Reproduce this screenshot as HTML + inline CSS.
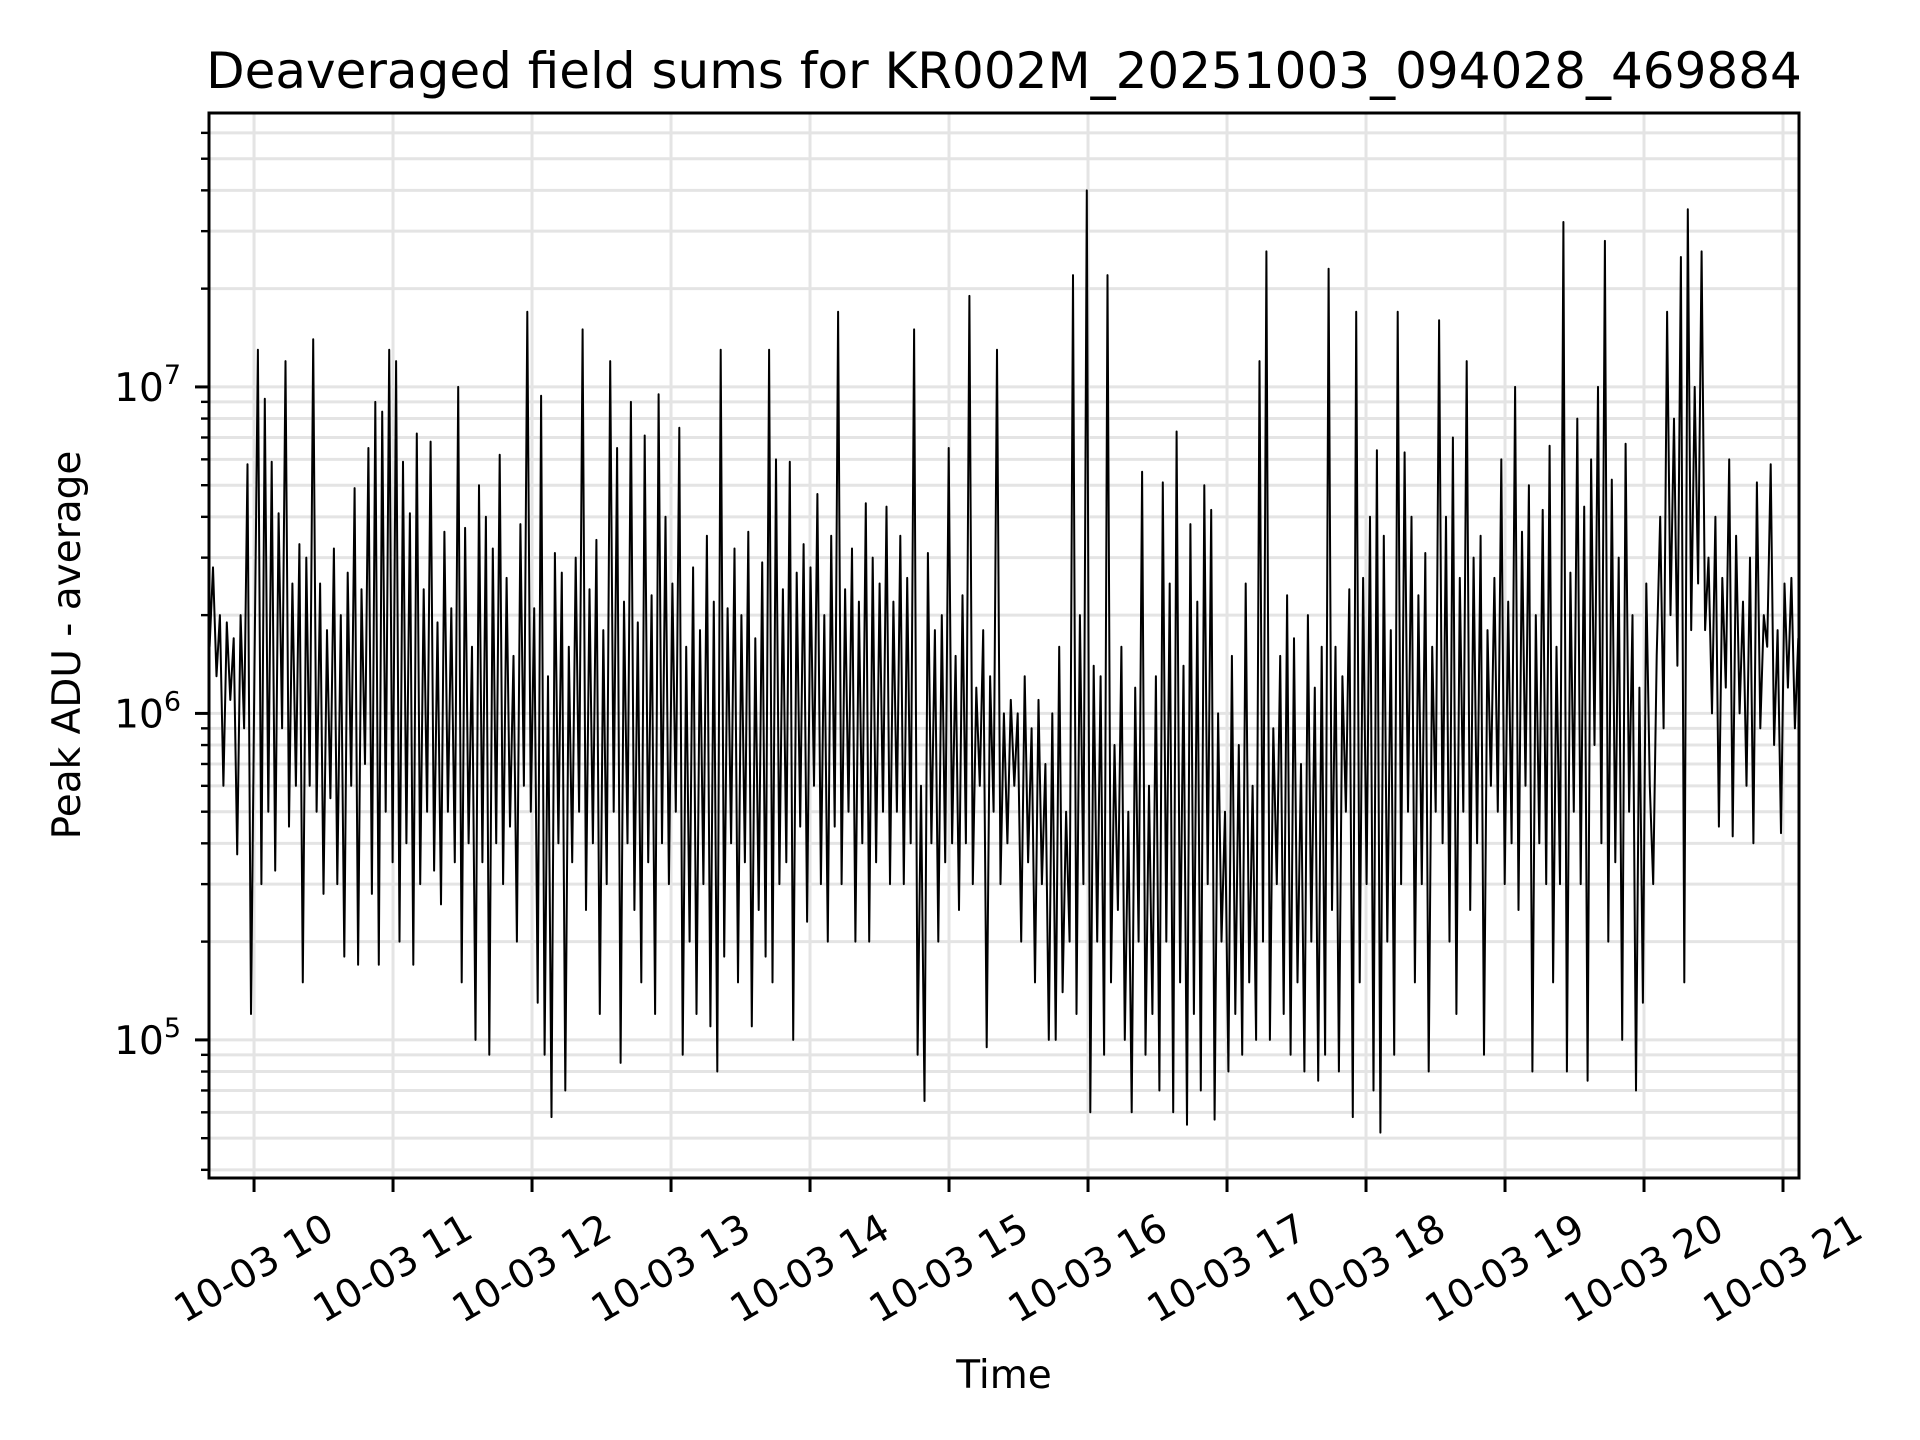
<!DOCTYPE html>
<html><head><meta charset="utf-8"><style>
html,body{margin:0;padding:0;background:#fff;}
svg{display:block;font-family:"DejaVu Sans","Liberation Sans",sans-serif;}
</style></head><body>
<svg id="chart" width="1920" height="1440" viewBox="0 0 1920 1440" xmlns="http://www.w3.org/2000/svg">
<rect x="0" y="0" width="1920" height="1440" fill="#fff"/>
<g id="grid"></g>
<g id="series"></g>
<rect x="209" y="113" width="1590" height="1065" fill="none" stroke="#000" stroke-width="3"/>
<g id="axes"></g>
<text x="1004" y="88" font-size="50" text-anchor="middle">Deaveraged field sums for KR002M_20251003_094028_469884</text>
<text x="1004" y="1388" font-size="39" text-anchor="middle">Time</text>
<text transform="translate(80,645) rotate(-90)" font-size="39" text-anchor="middle">Peak ADU - average</text>
</svg>
<script>
const xTickHours = [10,11,12,13,14,15,16,17,18,19,20,21];
const xTickLabels = ["10-03 10","10-03 11","10-03 12","10-03 13","10-03 14","10-03 15","10-03 16","10-03 17","10-03 18","10-03 19","10-03 20","10-03 21"];
const yDecades = [5,6,7];
const startHour = 9.68;
const endHour = 21.11;
// values in millions of ADU
const seriesValues = [
1.6,2.8,1.3,2.0,0.6,1.9,1.1,1.7,0.37,2.0,0.9,5.8,0.12,
1.4,13,0.3,9.2,0.5,5.9,0.33,4.1,0.9,12,0.45,2.5,0.6,3.3,0.15,3.0,0.6,14,0.5,2.5,
0.28,1.8,0.55,3.2,0.3,2.0,0.18,2.7,0.6,4.9,0.17,2.4,0.7,6.5,0.28,9.0,0.17,8.4,0.5,13,
0.35,12,0.2,5.9,0.4,4.1,0.17,7.2,0.3,2.4,0.5,6.8,0.33,1.9,0.26,3.6,0.5,2.1,0.35,10,
0.15,3.7,0.4,1.6,0.1,5.0,0.35,4.0,0.09,3.2,0.4,6.2,0.3,2.6,0.45,1.5,0.2,3.8,0.6,17,
0.5,2.1,0.13,9.4,0.09,1.3,0.058,3.1,0.4,2.7,0.07,1.6,0.35,3.0,0.5,15,0.25,2.4,0.4,3.4,
0.12,1.8,0.3,12,0.5,6.5,0.085,2.2,0.4,9.0,0.25,1.9,0.15,7.1,0.35,2.3,0.12,9.5,0.4,4.0,
0.3,2.5,0.5,7.5,0.09,1.6,0.2,2.8,0.12,1.8,0.3,3.5,0.11,2.2,0.08,13,0.18,2.1,0.4,3.2,
0.15,2.0,0.35,3.6,0.11,1.7,0.25,2.9,0.18,13,0.15,6.0,0.3,2.4,0.35,5.9,0.1,2.7,0.45,3.3,
0.23,2.8,0.6,4.7,0.3,2.0,0.2,3.5,0.45,17,0.3,2.4,0.5,3.2,0.2,2.2,0.4,4.4,0.2,3.0,
0.35,2.5,0.5,4.3,0.3,2.2,0.5,3.5,0.3,2.6,0.4,15,0.09,0.6,0.065,3.1,0.4,1.8,0.2,2.0,
0.35,6.5,0.4,1.5,0.25,2.3,0.4,19,0.3,1.2,0.6,1.8,0.095,1.3,0.5,13,0.3,1.0,0.4,1.1,
0.6,1.0,0.2,1.3,0.35,0.9,0.15,1.1,0.3,0.7,0.1,1.0,0.1,1.6,0.14,0.5,0.2,22,0.12,2.0,
0.3,40,0.06,1.4,0.2,1.3,0.09,22,0.15,0.8,0.25,1.6,0.1,0.5,0.06,1.2,0.2,5.5,0.09,0.6,
0.12,1.3,0.07,5.1,0.2,2.5,0.06,7.3,0.15,1.4,0.055,3.8,0.12,2.2,0.07,5.0,0.3,4.2,0.057,1.0,
0.2,0.5,0.08,1.5,0.12,0.8,0.09,2.5,0.15,0.6,0.1,12,0.2,26,0.1,0.9,0.3,1.5,0.12,2.3,
0.09,1.7,0.15,0.7,0.08,2.0,0.2,1.2,0.075,1.6,0.09,23,0.25,1.6,0.08,1.3,0.5,2.4,0.058,17,
0.15,2.6,0.3,4.0,0.07,6.4,0.052,3.5,0.2,1.8,0.09,17,0.3,6.3,0.5,4.0,0.15,2.3,0.3,3.1,
0.08,1.6,0.5,16,0.4,4.0,0.2,7.0,0.12,2.6,0.5,12,0.25,3.0,0.4,3.5,0.09,1.8,0.6,2.6,
0.5,6.0,0.3,2.2,0.4,10,0.25,3.6,0.6,5.0,0.08,2.0,0.4,4.2,0.3,6.6,0.15,1.6,0.3,32,
0.08,2.7,0.5,8.0,0.3,4.3,0.075,6.0,0.8,10,0.4,28,0.2,5.2,0.35,3.0,0.1,6.7,0.5,2.0,
0.07,1.2,0.13,2.5,0.6,0.3,1.5,4.0,0.9,17,2.0,8.0,1.4,25,0.15,35,1.8,10,2.5,26,
1.8,3.0,1.0,4.0,0.45,2.6,1.2,6.0,0.42,3.5,1.0,2.2,0.6,3.0,0.4,5.1,0.9,2.0,1.6,5.8,0.8,1.8,0.43,2.5,1.2,2.6,0.9,1.7
];

const NS = "http://www.w3.org/2000/svg";
const L = 209, R = 1799, T = 113, B = 1178;
const xMin = 9.676, xMax = 21.115;
const yMinLog = 4.577, yMaxLog = 7.839;
function xScale(h){ return L + (h - xMin) / (xMax - xMin) * (R - L); }
function yScale(v){ return B - (Math.log10(v) - yMinLog) / (yMaxLog - yMinLog) * (B - T); }
function mk(tag, attrs, parent){
  const e = document.createElementNS(NS, tag);
  for (const k in attrs) e.setAttribute(k, attrs[k]);
  parent.appendChild(e);
  return e;
}
const grid = document.getElementById('grid');
const axes = document.getElementById('axes');
const series = document.getElementById('series');

for (let d = 4; d <= 7; d++) {
  for (let m = 1; m <= 9; m++) {
    const v = m * Math.pow(10, d);
    const lg = Math.log10(v);
    if (lg < yMinLog || lg > yMaxLog) continue;
    const y = yScale(v);
    const gl = mk('line', {x1:L, x2:R, y1:y, y2:y, stroke:'#e4e4e4', 'stroke-width':3}, grid);
    
    
    const tk = mk('line', {x1:L, x2:L - (m === 1 ? 14 : 8), y1:y, y2:y, stroke:'#000', 'stroke-width': m === 1 ? 3 : 2.4}, axes);
    
    
  }
}
yDecades.forEach(function(d){
  const y = yScale(Math.pow(10, d));
  const t = mk('text', {x:181, y:y + 14, 'font-size':39, 'text-anchor':'end'}, axes);
  
  
  const base = mk('tspan', {}, t); base.textContent = '10';
  const sup = mk('tspan', {dy:-17, 'font-size':27}, t); sup.textContent = String(d);
});

xTickHours.forEach(function(h, i){
  const x = xScale(h);
  const gl = mk('line', {x1:x, x2:x, y1:T, y2:B, stroke:'#e4e4e4', 'stroke-width':3}, grid);
  
  
  const tk = mk('line', {x1:x, x2:x, y1:B, y2:B + 14, stroke:'#000', 'stroke-width':3}, axes);
  
  
  const t = mk('text', {x:0, y:0, 'font-size':39, 'text-anchor':'middle', 'dominant-baseline':'central',
    transform:'translate(' + x + ',1269) rotate(-30)'}, axes);
  
  
  t.textContent = xTickLabels[i];
});

const n = seriesValues.length;
let pts = [];
for (let i = 0; i < n; i++) {
  const h = startHour + i * (endHour - startHour) / (n - 1);
  pts.push(xScale(h).toFixed(1) + ',' + yScale(seriesValues[i] * 1e6).toFixed(1));
}
const line = mk('polyline', {points:pts.join(' '), fill:'none', stroke:'#000', 'stroke-width':2, 'stroke-linejoin':'round'}, series);


</script>
</body></html>
